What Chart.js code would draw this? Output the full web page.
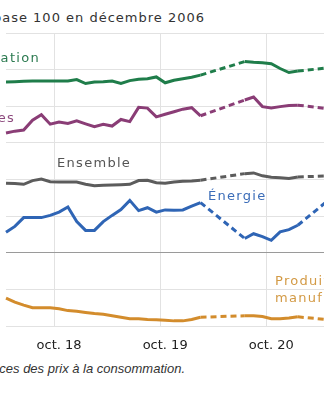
<!DOCTYPE html>
<html lang="fr">
<head>
  <meta charset="UTF-8" />
  <title>Prix à la consommation</title>
  <script src="https://cdn.jsdelivr.net/npm/chart.js"></script>
  <style>
    html, body {
      margin: 0;
      width: 324px;
      height: 400px;
      overflow: hidden;
      background: #fff;
      font-family: "DejaVu Sans", sans-serif;
    }

    body { position: relative; }

    .titre {
      position: absolute;
      top: 10px;
      right: 119px;
      white-space: nowrap;
      font-size: 13px;
      line-height: 15px;
      letter-spacing: 1px;
      color: #333;
    }

    .zone {
      position: absolute;
      left: -6px;
      top: 28px;
      width: 360px;
      height: 326px;
    }

    .etiquette {
      position: absolute;
      white-space: nowrap;
      font-size: 13px;
      line-height: 17px;
      letter-spacing: 1.3px;
    }

    .source {
      position: absolute;
      top: 362px;
      right: 139px;
      white-space: nowrap;
      font-family: "Liberation Sans", Arial, sans-serif;
      font-style: italic;
      font-size: 13px;
      line-height: 14px;
      color: #333;
    }
  </style>
</head>
<body>
  <div class="titre">Indices, base 100 en décembre 2006</div>

  <div class="zone"><canvas id="chart"></canvas></div>

  <div class="etiquette" style="right:284px; top:49px; color:#2b7a50;">Alimentation</div>
  <div class="etiquette" style="right:309px; top:109px; color:#8d4a7e;">Services</div>
  <div class="etiquette" style="left:57px; top:154px; color:#555;">Ensemble</div>
  <div class="etiquette" style="left:208px; top:187px; color:#3a6cb8;">Énergie</div>
  <div class="etiquette" style="left:275px; top:272px; color:#d39a45;">Produits<br>manufacturés</div>

  <div class="source">Source : Insee, indices des prix à la consommation.</div>

  <script>
    // mois d'avril 2018 à juin 2021
    const mois = [
      'avr. 18', 'mai 18', 'juin 18', 'juil. 18', 'août 18', 'sept. 18',
      'oct. 18', 'nov. 18', 'déc. 18', 'janv. 19', 'févr. 19', 'mars 19',
      'avr. 19', 'mai 19', 'juin 19', 'juil. 19', 'août 19', 'sept. 19',
      'oct. 19', 'nov. 19', 'déc. 19', 'janv. 20', 'févr. 20', 'mars 20',
      'avr. 20', 'mai 20', 'juin 20', 'juil. 20', 'août 20', 'sept. 20',
      'oct. 20', 'nov. 20', 'déc. 20', 'janv. 21', 'févr. 21', 'mars 21',
      'avr. 21', 'mai 21', 'juin 21'
    ];

    // null = mois sans relevé, reliés en pointillés
    const alimentation = [
      146.6, 146.7, 146.8, 146.9, 146.9, 146.9,
      146.9, 146.9, 147.3, 146.2, 146.6, 146.7,
      146.9, 146.2, 147.0, 147.4, 147.5, 148.0,
      146.4, 147.1, 147.5, 147.9, 148.5, null,
      null, null, null, 152.2, 152.0, 151.9,
      151.6, 150.3, 149.2, 149.6, null, null,
      null, null, 150.9
    ];

    const services = [
      132.7, 133.2, 133.5, 136.2, 137.7, 135.1,
      135.7, 135.3, 136.0, 135.2, 134.4, 135.1,
      134.6, 136.4, 135.8, 139.7, 139.5, 137.1,
      137.8, 138.5, 139.2, 139.6, 137.4, null,
      null, null, null, 141.7, 142.5, 139.9,
      139.5, 139.9, 140.2, 140.3, null, null,
      null, null, 138.9
    ];

    const ensemble = [
      119.0, 118.9, 118.7, 119.7, 120.1, 119.4,
      119.3, 119.3, 119.3, 118.7, 118.3, 118.4,
      118.5, 118.6, 118.7, 119.7, 119.8, 119.1,
      119.0, 119.3, 119.5, 119.6, 119.8, null,
      null, null, null, 121.6, 121.8, 121.0,
      120.6, 120.5, 120.3, 120.7, null, null,
      null, null, 121.1
    ];

    const energie = [
      105.6, 107.2, 109.6, 109.6, 109.6, 110.2,
      111.1, 112.5, 108.5, 106.1, 106.1, 108.5,
      110.2, 111.8, 114.3, 111.5, 112.3, 111.1,
      111.7, 111.6, 111.7, 112.7, 113.7, null,
      null, null, null, 103.9, 105.2, 104.4,
      103.4, 105.7, 106.3, 107.5, null, null,
      null, null, 117.4
    ];

    const manufactures = [
      87.6, 86.5, 85.7, 85.0, 85.0, 85.0,
      84.7, 84.2, 84.0, 83.7, 83.4, 83.2,
      82.8, 82.4, 82.0, 82.0, 81.8, 81.7,
      81.6, 81.4, 81.4, 81.8, 82.4, null,
      null, null, null, 82.8, 82.8, 82.6,
      82.0, 82.0, 82.2, 82.5, null, null,
      null, null, 81.4
    ];

    const series = [
      { nom: 'Alimentation', valeurs: alimentation, couleur: '#1f7d4a' },
      { nom: 'Services', valeurs: services, couleur: '#8a3d76' },
      { nom: 'Ensemble', valeurs: ensemble, couleur: '#5c5c5c' },
      { nom: 'Énergie', valeurs: energie, couleur: '#2f65b5' },
      { nom: 'Produits manufacturés', valeurs: manufactures, couleur: '#d38c2c' }
    ];

    const pointille = ctx => (ctx.p0.skip || ctx.p1.skip) ? [6, 4] : undefined;

    const estOctobre = i => mois[i] && mois[i].startsWith('oct.');

    new Chart(document.getElementById('chart'), {
      type: 'line',
      data: {
        labels: mois,
        datasets: series.map(s => ({
          label: s.nom,
          data: s.valeurs,
          borderColor: s.couleur,
          borderWidth: 3,
          pointRadius: 0,
          tension: 0,
          spanGaps: true,
          segment: { borderDash: pointille }
        }))
      },
      options: {
        responsive: true,
        maintainAspectRatio: false,
        animation: false,
        layout: { padding: { top: 5, left: 0, right: 0, bottom: 0 } },
        plugins: {
          legend: { display: false },
          tooltip: { enabled: false }
        },
        scales: {
          x: {
            offset: false,
            border: { display: false },
            grid: {
              offset: true,
              drawTicks: false,
              color: ctx => estOctobre(ctx.index) ? '#e2e2e2' : 'rgba(0,0,0,0)'
            },
            ticks: {
              autoSkip: false,
              maxRotation: 0,
              padding: 12,
              color: '#222',
              font: { family: 'DejaVu Sans', size: 13 },
              callback: (v, i) => estOctobre(i) ? mois[i] : ''
            },
            // hauteur fixe de l'axe pour caler la zone de tracé
            afterFit: scale => { scale.height = 28; }
          },
          y: {
            min: 80,
            max: 160,
            border: { display: false },
            grid: {
              drawTicks: false,
              color: ctx => ctx.tick && ctx.tick.value === 100 ? '#9a9a9a' : '#e2e2e2'
            },
            ticks: { display: false, stepSize: 10 }
          }
        }
      }
    });
  </script>
</body>
</html>
